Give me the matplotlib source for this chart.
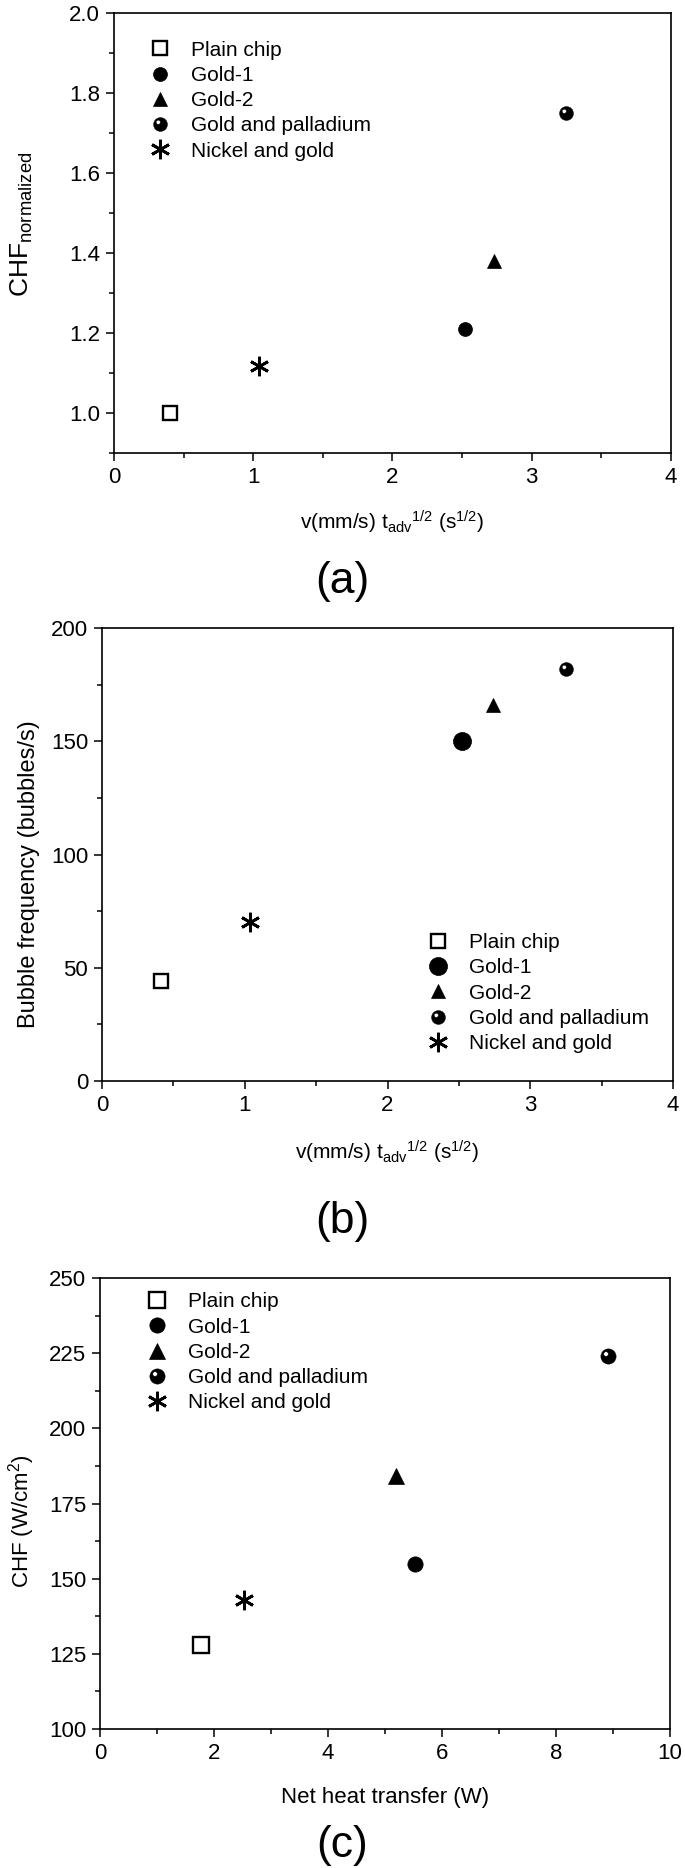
import numpy as np
import matplotlib
matplotlib.use('Agg')
import matplotlib.pyplot as plt
from matplotlib.path import Path
from matplotlib.ticker import MultipleLocator, FormatStrFormatter

plt.rcParams['font.family'] = ['Liberation Sans', 'DejaVu Sans']
plt.rcParams['mathtext.fontset'] = 'custom'
plt.rcParams['mathtext.rm'] = 'Liberation Sans'
plt.rcParams['mathtext.it'] = 'Liberation Sans:italic'
plt.rcParams['mathtext.bf'] = 'Liberation Sans:bold'

# Data
series = ['Plain chip', 'Gold-1', 'Gold-2', 'Gold and palladium', 'Nickel and gold']

a_x = [0.40, 2.52, 2.73, 3.25, 1.04]
a_y = [1.00, 1.21, 1.38, 1.75, 1.117]

b_x = [0.41, 2.52, 2.74, 3.25, 1.04]
b_y = [44, 150, 166, 182, 70]

c_x = [1.77, 5.52, 5.19, 8.92, 2.52]
c_y = [128, 155, 184, 224, 143]


def ball_marker():
    # black disc with a small hole up-left, looks like a shaded sphere
    outer = Path.circle((0, 0), 1.0)
    inner = Path.circle((-0.32, 0.32), 0.30)
    v = inner.vertices[:-1][::-1]
    codes = [Path.MOVETO] + [Path.CURVE4] * (len(v) - 1) + [Path.CLOSEPOLY]
    v = np.vstack([v, v[:1]])
    return Path.make_compound_path(outer, Path(v, codes))


BALL = ball_marker()


def draw_panel(ax, xs, ys, sizes, legend_anchor):
    styles = [
        dict(marker='s', mfc='white', mec='black', mew=1.7),
        dict(marker='o', mfc='black', mec='black', mew=0.5),
        dict(marker='^', mfc='black', mec='black', mew=0.5),
        dict(marker=BALL, mfc='black', mec='black', mew=0.3),
        dict(marker=(6, 2, 0), mfc='black', mec='black', mew=2.0),
    ]
    for name, x, y, st, ms in zip(series, xs, ys, styles, sizes):
        ax.plot([x], [y], linestyle='none', ms=ms, label=name, **st)

    ax.legend(loc='upper left', bbox_to_anchor=legend_anchor, frameon=False,
              fontsize=15, handlelength=1.0, handletextpad=1.0,
              labelspacing=0.3, borderpad=0.4, numpoints=1)

    for s in ax.spines.values():
        s.set_linewidth(1.2)
    ax.tick_params(which='both', direction='out', top=False, right=False,
                   width=1.1, labelsize=16, pad=4)
    ax.tick_params(which='major', length=6)
    ax.tick_params(which='minor', length=3.5)


fig = plt.figure(figsize=(6.85, 18.68), dpi=100)

xlab = r'v(mm/s) t$_{\mathrm{adv}}$$^{\mathrm{1/2}}$ (s$^{\mathrm{1/2}}$)'

# (a)
ax1 = fig.add_axes([0.1664, 0.7575, 0.813, 0.2355])
draw_panel(ax1, a_x, a_y, [10, 10, 10, 10, 14], (0.03, 0.98))
ax1.set_xlim(0, 4)
ax1.set_ylim(0.9, 2.0)
ax1.xaxis.set_major_locator(MultipleLocator(1))
ax1.xaxis.set_minor_locator(MultipleLocator(0.5))
ax1.yaxis.set_major_locator(MultipleLocator(0.2))
ax1.yaxis.set_minor_locator(MultipleLocator(0.1))
ax1.yaxis.set_major_formatter(FormatStrFormatter('%.1f'))
ax1.set_xlabel(xlab, fontsize=15)
ax1.xaxis.set_label_coords(0.5, -69 / 440)
ax1.xaxis.label.set_va('center')
ax1.set_ylabel(r'CHF$_{\mathrm{normalized}}$', fontsize=19)
ax1.yaxis.set_label_coords(-0.165, 0.52)
ax1.yaxis.label.set_va('center')

# (b)
ax2 = fig.add_axes([0.1489, 0.4213, 0.8336, 0.2425])
draw_panel(ax2, b_x, b_y, [10, 13, 10, 10, 14], (0.537, 0.368))
ax2.set_xlim(0, 4)
ax2.set_ylim(0, 200)
ax2.xaxis.set_major_locator(MultipleLocator(1))
ax2.xaxis.set_minor_locator(MultipleLocator(0.5))
ax2.yaxis.set_major_locator(MultipleLocator(50))
ax2.yaxis.set_minor_locator(MultipleLocator(25))
ax2.set_xlabel(xlab, fontsize=15)
ax2.xaxis.set_label_coords(0.5, -71 / 453)
ax2.xaxis.label.set_va('center')
ax2.set_ylabel('Bubble frequency (bubbles/s)', fontsize=17)
ax2.yaxis.set_label_coords(-0.128, 0.456)
ax2.yaxis.label.set_va('center')

# (c)
ax3 = fig.add_axes([0.146, 0.0744, 0.832, 0.2414])
draw_panel(ax3, c_x, c_y, [11, 11, 11, 11, 14], (0.048, 1.01))
ax3.set_xlim(0, 10)
ax3.set_ylim(100, 250)
ax3.xaxis.set_major_locator(MultipleLocator(2))
ax3.xaxis.set_minor_locator(MultipleLocator(1))
ax3.yaxis.set_major_locator(MultipleLocator(25))
ax3.yaxis.set_minor_locator(MultipleLocator(12.5))
ax3.set_xlabel('Net heat transfer (W)', fontsize=16)
ax3.xaxis.set_label_coords(0.5, -68 / 451)
ax3.xaxis.label.set_va('center')
ax3.set_ylabel(r'CHF (W/cm$^{2}$)', fontsize=16)
ax3.yaxis.set_label_coords(-0.137, 0.46)
ax3.yaxis.label.set_va('center')

# panel letters
fig.text(0.5, 1 - 582 / 1868, '(a)', fontsize=32, ha='center', va='center')
fig.text(0.5, 1 - 1222 / 1868, '(b)', fontsize=32, ha='center', va='center')
fig.text(0.5, 1 - 1846 / 1868, '(c)', fontsize=32, ha='center', va='center')

fig.savefig('out.png', dpi=100)
